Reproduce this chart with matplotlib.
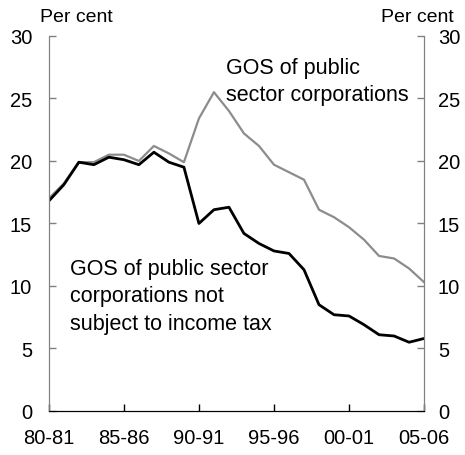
import numpy as np
import matplotlib.pyplot as plt

plt.rcParams['font.family'] = ['Liberation Sans', 'DejaVu Sans']

# Financial years 80-81 .. 05-06
years = np.arange(1980, 2006)
tick_labels = ["80-81", "85-86", "90-91", "95-96", "00-01", "05-06"]

# GOS of public sector corporations (per cent)
gos_all = [17.0, 18.2, 19.9, 19.9, 20.5, 20.5, 20.0, 21.2, 20.6, 19.9,
           23.4, 25.5, 24.0, 22.2, 21.2, 19.7, 19.1, 18.5, 16.1, 15.5,
           14.7, 13.7, 12.4, 12.2, 11.4, 10.3]
# GOS of public sector corporations not subject to income tax (per cent)
gos_not_taxed = [16.8, 18.1, 19.9, 19.7, 20.3, 20.1, 19.7, 20.7, 19.9, 19.5,
                 15.0, 16.1, 16.3, 14.2, 13.4, 12.8, 12.6, 11.3, 8.5, 7.7,
                 7.6, 6.9, 6.1, 6.0, 5.5, 5.8]

fig = plt.figure(figsize=(4.65, 4.56), dpi=100)
ax = fig.add_axes([0.105, 0.0965, 0.807, 0.8225])

ax.plot(years, gos_all, color="#8c8c8c", lw=1.6)
ax.plot(years, gos_not_taxed, color="black", lw=2.0)

ax.set_xlim(1980, 2005)
ax.set_ylim(0, 30)
ax.set_xticks(np.arange(1980, 2006, 5))
ax.set_xticklabels(tick_labels)
ax.set_yticks(range(0, 31, 5))

ax2 = ax.twinx()
ax2.set_ylim(0, 30)
ax2.set_yticks(range(0, 31, 5))

for a in (ax, ax2):
    a.tick_params(direction="in", length=5, width=1, labelsize=14.5, pad=12,
                  color="#808080")
    a.spines["top"].set_visible(False)
    for s in ("left", "right"):
        a.spines[s].set_color("#808080")
    a.spines["bottom"].set_color("black")
ax2.tick_params(pad=10)
ax.tick_params(axis="x", pad=12, color="black")

fig.text(0.086, 0.962, "Per cent", fontsize=14, ha="left", va="center")
fig.text(0.975, 0.962, "Per cent", fontsize=14, ha="right", va="center")

ax.text(1991.8, 26.4, "GOS of public\nsector corporations", fontsize=15.5,
        ha="left", va="center", linespacing=1.4)
ax.text(1981.4, 9.2, "GOS of public sector\ncorporations not\nsubject to income tax",
        fontsize=15.5, ha="left", va="center", linespacing=1.4)

fig.savefig("out.png", dpi=100)
